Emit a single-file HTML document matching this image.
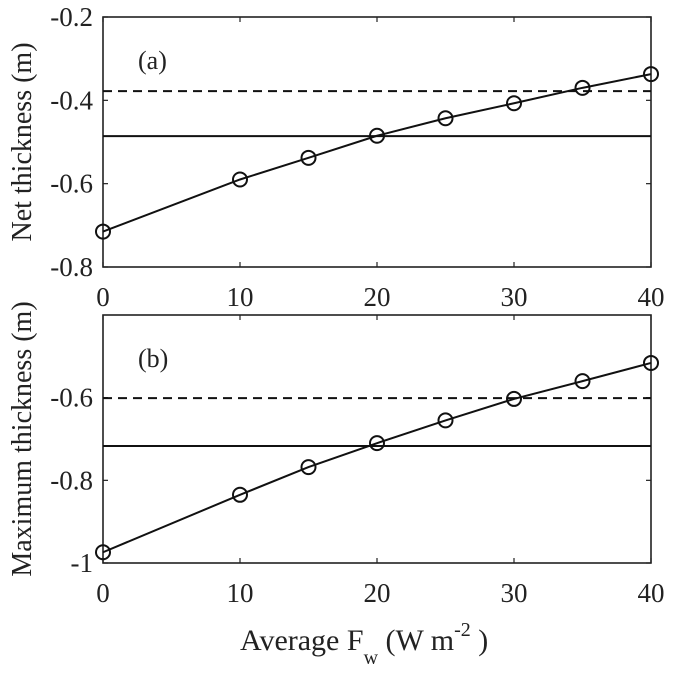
<!DOCTYPE html>
<html><head><meta charset="utf-8"><style>
body{margin:0;background:#fff;}
svg text{font-family:"Liberation Serif",serif;fill:#222;}
</style></head><body>
<svg id="c" width="675" height="676"></svg>
<script>
const xs=[0,10,15,20,25,30,35,40];
const netVals=[-0.715,-0.59,-0.538,-0.485,-0.443,-0.407,-0.37,-0.337];
const maxVals=[-0.974,-0.835,-0.768,-0.71,-0.655,-0.603,-0.56,-0.516];
const netRefDashed=-0.378, netRefSolid=-0.486;
const maxRefDashed=-0.601, maxRefSolid=-0.717;
const xTicks=[0,10,20,30,40];
const netTicks=[-0.8,-0.6,-0.4,-0.2];
const netTickLabels=["-0.8","-0.6","-0.4","-0.2"];
const maxTicks=[-1,-0.8,-0.6];
const maxTickLabels=["-1","-0.8","-0.6"];
const NS="http://www.w3.org/2000/svg";
const svg=document.getElementById('c');
function mk(t,a,p){const e=document.createElementNS(NS,t);for(const k in a)e.setAttribute(k,a[k]);(p||svg).appendChild(e);return e;}
const L=103,R=651;
const sx=v=>L+(v-0)/(40-0)*(R-L);
function panel(name,top,bot,ymin,ymax,vals,dash,solid,ticks,tlabels,tag,ylab){
  const sy=v=>bot-(v-ymin)/(ymax-ymin)*(bot-top);
  const g=mk('g',{});
  
  
  const fr=mk('rect',{x:L,y:top,width:R-L,height:bot-top,fill:'none',stroke:'#222','stroke-width':1.6},g);
  
  xTicks.forEach(t=>{
    mk('line',{x1:sx(t),x2:sx(t),y1:bot,y2:bot-5,stroke:'#222','stroke-width':1.2},g);
    mk('line',{x1:sx(t),x2:sx(t),y1:top,y2:top+5,stroke:'#222','stroke-width':1.2},g);
    const tx=mk('text',{x:sx(t),y:bot+39,'text-anchor':'middle','font-size':27},g);tx.textContent=t;
    
  });
  ticks.forEach((t,i)=>{
    mk('line',{x1:L,x2:L+5,y1:sy(t),y2:sy(t),stroke:'#222','stroke-width':1.2},g);
    mk('line',{x1:R,x2:R-5,y1:sy(t),y2:sy(t),stroke:'#222','stroke-width':1.2},g);
    const tx=mk('text',{x:L-10,y:sy(t)+9,'text-anchor':'end','font-size':27},g);tx.textContent=tlabels[i];
    
  });
  const d=mk('line',{x1:L,x2:R,y1:sy(dash),y2:sy(dash),stroke:'#111','stroke-width':2,'stroke-dasharray':'9,6'},g);
  
  const s=mk('line',{x1:L,x2:R,y1:sy(solid),y2:sy(solid),stroke:'#111','stroke-width':2},g);
  
  const pl=mk('polyline',{points:xs.map((x,i)=>sx(x)+','+sy(vals[i])).join(' '),fill:'none',stroke:'#111','stroke-width':2},g);
  
  xs.forEach((x,i)=>{
    const c=mk('circle',{cx:sx(x),cy:sy(vals[i]),r:7,fill:'none',stroke:'#111','stroke-width':2},g);
    
  });
  const tg=mk('text',{x:L+35,y:top+52,'font-size':26},g);tg.textContent=tag;
  
  const yl=mk('text',{x:0,y:0,'text-anchor':'middle','font-size':28,transform:`translate(31,${(top+bot)/2}) rotate(-90)`},g);yl.textContent=ylab;
  
}
panel('panel-a',17,267,-0.8,-0.2,netVals,netRefDashed,netRefSolid,netTicks,netTickLabels,'(a)','Net thickness (m)');
panel('panel-b',315,563,-1,-0.4,maxVals,maxRefDashed,maxRefSolid,maxTicks,maxTickLabels,'(b)','Maximum thickness (m)');
const xt=mk('text',{x:240,y:650,'font-size':30});

xt.innerHTML='Average F<tspan font-size="20" dy="14">w</tspan><tspan dy="-14"> (W m</tspan><tspan font-size="20" dy="-14">-2</tspan><tspan dy="14"> )</tspan>';
</script>
</body></html>
